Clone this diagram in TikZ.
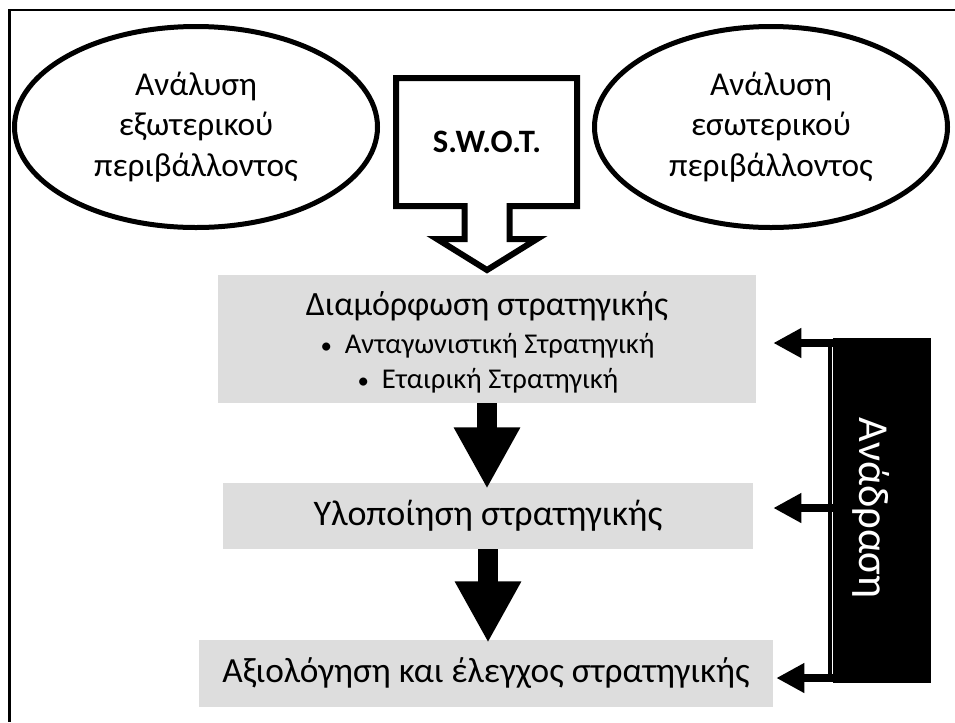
\documentclass[tikz,border=0pt]{standalone}
\usepackage{fontspec}
\setmainfont{Carlito}
\usetikzlibrary{arrows.meta,shapes.geometric}

\definecolor{stagegray}{RGB}{221,221,221}

\begin{document}
\begin{tikzpicture}[x=0.75pt,y=0.75pt,yscale=-1,
  envellipse/.style={draw, ellipse, line width=3.75pt, minimum width=272.25pt, minimum height=150.75pt, inner sep=0pt, align=center, font=\fontsize{25}{30.4}\selectfont},
  stagebox/.style={fill=stagegray, inner sep=0pt, font=\fontsize{27}{32}\selectfont},
  bulletline/.style={anchor=base, font=\fontsize{21.5}{26}\selectfont},
  downarrow/.style={line width=15pt, -{Triangle[width=46.5pt,length=46pt]}},
  fbarrow/.style={line width=6pt, -{Triangle[width=21pt,length=21pt]}},
]
\useasboundingbox (0,0) rectangle (955,722);

%Straight Lines
\draw [line width=1.9pt] (955,10) -- (9.5,10) -- (9.5,722) ;

%Shape: Ellipse
\node [envellipse] (extenv) at (196,127) {Ανάλυση\\εξωτερικού\\περιβάλλοντος};
%Shape: Ellipse
\node [envellipse, minimum width=264.75pt] (intenv) at (771,127) {Ανάλυση\\εσωτερικού\\περιβάλλοντος};

%Shape: Down Arrow Callout
\draw [line width=4.5pt, line join=miter] (396,78) -- (577,78) -- (577,206) -- (509.5,206) -- (509.5,239) -- (537,239) -- (487,270) -- (437,239) -- (464.5,239) -- (464.5,206) -- (396,206) -- cycle ;
% Text Node
\node [font=\bfseries\fontsize{24.5}{29}\selectfont] (swot) at (487,142) {S.W.O.T.};

%Shape: Rectangle
\node [stagebox, minimum width=403.5pt, minimum height=96pt] (form) at (487,339) {};
% Text Node
\node [anchor=base, font=\fontsize{25.5}{30}\selectfont] (formtitle) at (487,315) {Διαμόρφωση στρατηγικής};
% Text Node
\node [bulletline] (formcomp) at (487.5,353) {\scalebox{0.8}{•}\hspace{0.45em}Ανταγωνιστική Στρατηγική};
% Text Node
\node [bulletline] (formcorp) at (488,388) {\scalebox{0.8}{•}\hspace{0.45em}Εταιρική Στρατηγική};

%Shape: Rectangle
\node [stagebox, minimum width=397.5pt, minimum height=49.5pt] (impl) at (488,516) {Υλοποίηση στρατηγικής};
%Shape: Rectangle
\node [stagebox, minimum width=430.5pt, minimum height=50.25pt, font=\fontsize{26.5}{32}\selectfont] (eval) at (486,673.5) {Αξιολόγηση και έλεγχος στρατηγικής};

%Straight Lines
\draw [downarrow, shorten >=-4.5pt] (form.south) -- (form.south |- impl.north) ;
\draw [downarrow, shorten >=-2.25pt] (impl.south) -- (impl.south |- eval.north) ;

%Shape: Rectangle
\node [fill=black, inner sep=0pt, minimum width=73.5pt, minimum height=258.75pt] (feedback) at (882.25,510.5) {};
% Text Node
\node [text=white, rotate=-90, font=\fontsize{32}{38}\selectfont] (fbtext) at (871,508) {Ανάδραση};

\coordinate (fbtop) at (834,343) ;
\coordinate (fbmid) at (834,508) ;
\coordinate (fbbot) at (834,678) ;
%Straight Lines
\draw [line width=3pt] ([xshift=-3pt]fbtop) -- ([xshift=-3pt]fbbot) ;
\draw [fbarrow] (fbtop) -- ([xshift=12.75pt]form.east |- fbtop) ;
\draw [fbarrow] (fbmid) -- ([xshift=15pt]impl.east |- fbmid) ;
\draw [fbarrow] (fbbot) -- ([xshift=2.25pt]eval.east |- fbbot) ;

\end{tikzpicture}
\end{document}
